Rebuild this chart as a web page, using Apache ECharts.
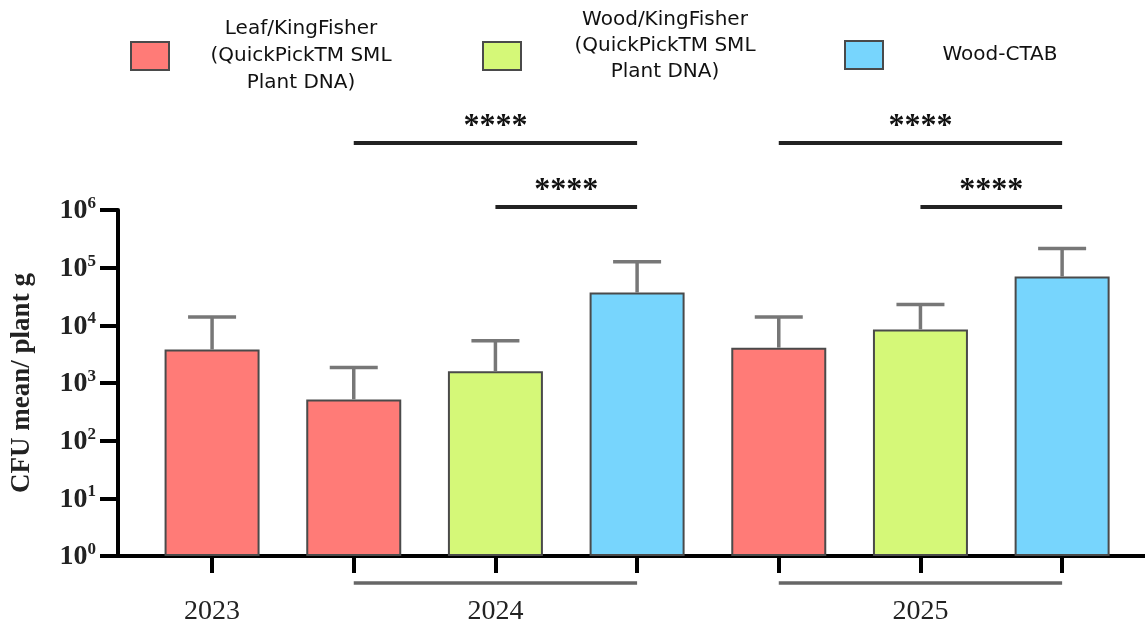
<!DOCTYPE html>
<html>
<head>
<meta charset="utf-8">
<script src="https://cdn.jsdelivr.net/npm/echarts@6/dist/echarts.min.js"></script>
<style>html,body{margin:0;padding:0;background:#fff}#c{width:1145px;height:626px}</style>
</head>
<body>
<div id="c"></div>
<script>
// ---- data ----
const seriesNames = [
  'Leaf/KingFisher\n(QuickPickTM SML\nPlant DNA)',
  'Wood/KingFisher\n(QuickPickTM SML\nPlant DNA)',
  'Wood-CTAB'
];
const barPositions = [1, 2, 3, 4, 5, 6, 7];
const barMethod    = [0, 0, 1, 2, 0, 1, 2];           // index into seriesNames
const barMeans     = [3800, 520, 1600, 37000, 4100, 8500, 70000];
const barUpper     = [14000, 1850, 5400, 127000, 14000, 23000, 215000];
const yearLabels   = ['2023', '2024', '2025'];
const yearLabelPos = [1, 3, 6];
const yearGroups   = [[2, 4], [5, 7]];               // underlined groups
const sigPairs     = [[2, 4, 0], [3, 4, 1], [5, 7, 0], [6, 7, 1]]; // from, to, level
const sigText      = ['****', '****', '****', '****'];
const yTickExp     = [0, 1, 2, 3, 4, 5, 6];

const colors = ['#FF7B77', '#D5F878', '#77D5FD'];
const serif = '"Liberation Serif", "DejaVu Serif", serif';
const sans = '"DejaVu Sans", Verdana, sans-serif';

const barSeries = seriesNames.map((name, k) => ({
  name: name,
  type: 'bar',
  barWidth: 95,
  barGap: '-100%',
  itemStyle: { color: colors[k], borderColor: '#4a4a4a', borderWidth: 2 },
  data: barPositions.map((p, i) => barMethod[i] === k ? [p, barMeans[i]] : null).filter(d => d),
  z: 2
}));

const errorSeries = {
  type: 'custom',
  clip: false,
  z: 3,
  data: barPositions.map((p, i) => [p, barMeans[i], barUpper[i]]),
  encode: { x: 0, y: 1 },
  renderItem: function (params, api) {
    const x = api.value(0);
    const p0 = api.coord([x, api.value(1)]);
    const p1 = api.coord([x, api.value(2)]);
    const st = { stroke: '#777', lineWidth: 3.5 };
    return { type: 'group', children: [
      { type: 'line', shape: { x1: p0[0], y1: p0[1], x2: p1[0], y2: p1[1] }, style: st },
      { type: 'line', shape: { x1: p1[0] - 24, y1: p1[1], x2: p1[0] + 24, y2: p1[1] }, style: st }
    ]};
  }
};

const sigSeries = {
  type: 'custom',
  clip: false,
  silent: true,
  z: 3,
  data: sigPairs.map(s => [s[0], s[1], s[2]]),
  encode: { x: [0, 1] },
  renderItem: function (params, api) {
    const a = api.coord([api.value(0), 1e6]);
    const b = api.coord([api.value(1), 1e6]);
    const lvl = api.value(2);
    const y = a[1] - (lvl === 0 ? 67 : 3);
    return { type: 'group', children: [
      { type: 'line', shape: { x1: a[0], y1: y, x2: b[0], y2: y }, style: { stroke: '#222', lineWidth: 4 } },
      { type: 'text', x: (a[0] + b[0]) / 2, y: y - 16, style: {
          text: sigText[params.dataIndex], fill: '#111', font: 'bold 32px ' + serif,
          align: 'center', verticalAlign: 'middle' } }
    ]};
  }
};

const groupSeries = {
  type: 'custom',
  clip: false,
  silent: true,
  z: 3,
  data: yearGroups.map(g => [g[0], g[1]]),
  encode: { x: [0, 1] },
  renderItem: function (params, api) {
    const a = api.coord([api.value(0), 1]);
    const b = api.coord([api.value(1), 1]);
    const y = a[1] + 27;
    return { type: 'line', shape: { x1: a[0], y1: y, x2: b[0], y2: y }, style: { stroke: '#666', lineWidth: 3.5 } };
  }
};

function legendFor(k, left, top, width, padBottom, lh) {
  return {
    data: [seriesNames[k]],
    left: left, top: top,
    orient: 'horizontal',
    selectedMode: false,
    itemWidth: 38, itemHeight: 28,
    icon: 'rect',
    formatter: n => '{t|' + n + '}',
    textStyle: {
      rich: { t: { fontFamily: sans, fontSize: 20, lineHeight: lh, color: '#111',
                   width: width, align: 'center', padding: [0, 0, padBottom, 0] } }
    }
  };
}

const chart = echarts.init(document.getElementById('c'), null, { renderer: 'canvas' });
chart.setOption({
  animation: false,
  backgroundColor: '#fff',
  legend: [
    legendFor(0, 125, 14, 254, 0, 27),
    legendFor(1, 477, 5, 278, 20, 26),
    legendFor(2, 839, 35, 224, 0, 26)
  ],
  grid: { left: 118, right: 0, top: 210, bottom: 69 },
  xAxis: {
    type: 'value',
    min: 0.336, max: 7.585,
    splitLine: { show: false },
    axisLine: { show: true, onZero: false, lineStyle: { color: '#000', width: 4 } },
    axisTick: { show: true, customValues: barPositions, length: 17, lineStyle: { color: '#000', width: 4 } },
    axisLabel: {
      customValues: yearLabelPos,
      formatter: v => yearLabels[yearLabelPos.indexOf(Math.round(v))] || '',
      margin: 42, fontFamily: serif, fontSize: 28, color: '#222'
    }
  },
  yAxis: {
    type: 'log', logBase: 10, min: 1, max: 1e6,
    splitLine: { show: false },
    axisLine: { show: true, lineStyle: { color: '#000', width: 4 } },
    axisTick: { show: true, length: 18, lineStyle: { color: '#000', width: 4 } },
    axisLabel: {
      margin: 22,
      formatter: v => '{b|10}{s|' + yTickExp[Math.round(Math.log10(v))] + '}',
      rich: {
        b: { fontFamily: serif, fontWeight: 'bold', fontSize: 28, color: '#222', lineHeight: 30, verticalAlign: 'bottom' },
        s: { fontFamily: serif, fontWeight: 'bold', fontSize: 17, color: '#222', lineHeight: 30, verticalAlign: 'top', padding: [0, 0, 14, 0] }
      }
    },
    name: 'CFU mean/ plant g',
    nameLocation: 'middle',
    nameGap: 82,
    nameRotate: 90,
    nameTextStyle: { fontFamily: serif, fontWeight: 'bold', fontSize: 27, color: '#222' }
  },
  series: [...barSeries, errorSeries, sigSeries, groupSeries]
});
</script>
</body>
</html>
